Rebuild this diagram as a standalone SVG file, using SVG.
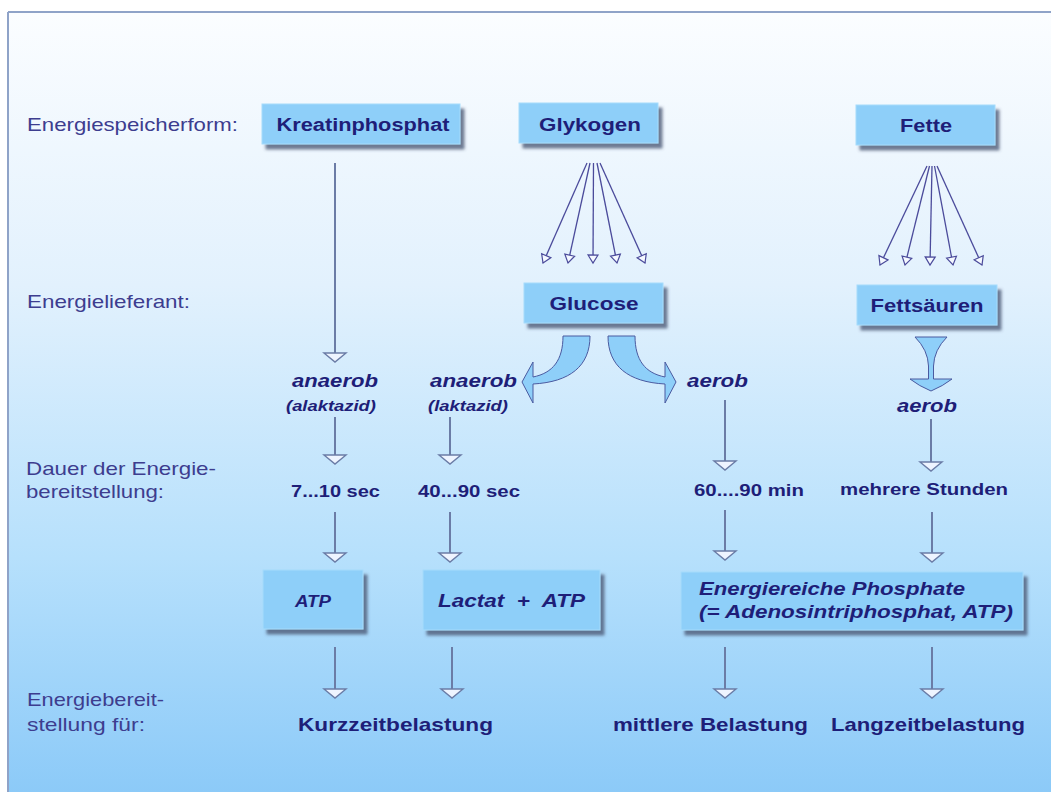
<svg xmlns="http://www.w3.org/2000/svg" width="1051" height="792" viewBox="0 0 1051 792">
<style>
.lbl{font-family:"Liberation Sans",Arial,sans-serif;font-size:18.5px;fill:#3d3d8f}
.nt{font-family:"Liberation Sans",Arial,sans-serif;font-size:18px;font-weight:bold;fill:#1e1e78;text-anchor:middle}
.it{font-family:"Liberation Sans",Arial,sans-serif;font-size:18px;font-weight:bold;font-style:italic;fill:#1e1e78;text-anchor:middle}
.box{fill:#8ecff9;stroke:#a6dbfb;stroke-width:1;filter:url(#sh)}
.ga{fill:none;stroke:#6b7ca6;stroke-width:2;marker-end:url(#hg)}
.fa{fill:none;stroke:#4b4b9b;stroke-width:1.3;marker-end:url(#hf)}
.cv{fill:#8ecff9;stroke:#4a5aa0;stroke-width:1}
</style>
<defs>
<linearGradient id="bg" x1="0" y1="12" x2="0" y2="792" gradientUnits="userSpaceOnUse">
<stop offset="0" stop-color="#fbfdff"/>
<stop offset="0.35" stop-color="#e2f1fd"/>
<stop offset="0.7" stop-color="#b6e0fc"/>
<stop offset="1" stop-color="#8ccaf8"/>
</linearGradient>
<filter id="sh" x="-10%" y="-20%" width="130%" height="150%">
<feDropShadow dx="4" dy="5" stdDeviation="1.6" flood-color="#4e5a78" flood-opacity="0.8"/>
</filter>
<marker id="hg" markerUnits="userSpaceOnUse" markerWidth="12" markerHeight="26" viewBox="-1 -13 12 26" refX="9" refY="0" orient="auto" style="overflow:visible">
<path d="M0,-11 L9,0 L0,11 Z" fill="#eef4ff" stroke="#6b7ca6" stroke-width="1.4"/>
</marker>
<marker id="hf" markerUnits="userSpaceOnUse" markerWidth="10" markerHeight="12" viewBox="-1 -6 10 12" refX="8" refY="0" orient="auto" style="overflow:visible">
<path d="M0,-5 L8,0 L0,5 Z" fill="#f4f8ff" stroke="#4b4b9b" stroke-width="1.2"/>
</marker>
</defs>

<rect x="0" y="0" width="1051" height="792" fill="#ffffff"/>
<rect x="8" y="12" width="1045" height="782" fill="url(#bg)"/>
<line x1="8" y1="12" x2="1051" y2="12" stroke="#8fa3c8" stroke-width="2"/>
<line x1="8" y1="12" x2="8" y2="792" stroke="#8fa3c8" stroke-width="2"/>

<g id="row-labels">
<text class="lbl" x="27" y="131" textLength="211" lengthAdjust="spacingAndGlyphs">Energiespeicherform:</text>
<text class="lbl" x="27" y="308" textLength="163" lengthAdjust="spacingAndGlyphs">Energielieferant:</text>
<text class="lbl" x="26" y="475" textLength="190" lengthAdjust="spacingAndGlyphs">Dauer der Energie-</text>
<text class="lbl" x="26" y="498" textLength="138" lengthAdjust="spacingAndGlyphs">bereitstellung:</text>
<text class="lbl" x="27" y="706" textLength="137" lengthAdjust="spacingAndGlyphs">Energiebereit-</text>
<text class="lbl" x="27" y="731" textLength="118" lengthAdjust="spacingAndGlyphs">stellung für:</text>
</g>

<g id="connectors">
<!-- Glykogen fan -->
<line class="fa" x1="587" y1="163" x2="543" y2="263"/>
<line class="fa" x1="590" y1="163" x2="568" y2="263"/>
<line class="fa" x1="593.5" y1="163" x2="593" y2="263"/>
<line class="fa" x1="597" y1="163" x2="617" y2="263"/>
<line class="fa" x1="600" y1="163" x2="645" y2="263"/>
<!-- Fette fan -->
<line class="fa" x1="927" y1="166" x2="880" y2="265"/>
<line class="fa" x1="929.5" y1="166" x2="905" y2="265"/>
<line class="fa" x1="932" y1="166" x2="930" y2="265"/>
<line class="fa" x1="934.5" y1="166" x2="953" y2="265"/>
<line class="fa" x1="937" y1="166" x2="982" y2="265"/>
<!-- grey vertical arrows -->
<line class="ga" x1="335" y1="163" x2="335" y2="362"/>
<line class="ga" x1="335" y1="417" x2="335" y2="464"/>
<line class="ga" x1="450" y1="417" x2="450" y2="464"/>
<line class="ga" x1="725" y1="400" x2="725" y2="470"/>
<line class="ga" x1="931" y1="419" x2="931" y2="471"/>
<line class="ga" x1="335" y1="512" x2="335" y2="562"/>
<line class="ga" x1="450" y1="512" x2="450" y2="562"/>
<line class="ga" x1="725" y1="510" x2="725" y2="560"/>
<line class="ga" x1="932" y1="512" x2="932" y2="562"/>
<line class="ga" x1="335" y1="647" x2="335" y2="698"/>
<line class="ga" x1="452" y1="647" x2="452" y2="698"/>
<line class="ga" x1="725" y1="647" x2="725" y2="698"/>
<line class="ga" x1="932" y1="647" x2="932" y2="698"/>
<!-- curved block arrows from Glucose -->
<path class="cv" d="M563,336 L590,336 C590,366 570,382 533,384 L533,403 L522,382 L533,362 L533,377 C553,373 563,360 563,336 Z"/>
<path class="cv" d="M635,336 L608,336 C608,366 628,382 665,384 L665,403 L676,382 L665,362 L665,377 C645,373 635,360 635,336 Z"/>
<!-- funnel arrow from Fettsäuren -->
<path class="cv" d="M915,337 L947,337 Q934,350 933.5,366 L933.5,379 L952,379 Q943,386 931,391 Q919,386 910,379 L928.5,379 L928.5,366 Q928,350 915,337 Z"/>
</g>

<g id="n-kreatinphosphat">
<rect class="box" x="262" y="104" width="198" height="40"/>
<text class="nt" x="363" y="131" textLength="173" lengthAdjust="spacingAndGlyphs">Kreatinphosphat</text>
</g>
<g id="n-glykogen">
<rect class="box" x="519" y="103" width="139" height="40"/>
<text class="nt" x="590" y="131" textLength="102" lengthAdjust="spacingAndGlyphs">Glykogen</text>
</g>
<g id="n-fette">
<rect class="box" x="856" y="105" width="139" height="40"/>
<text class="nt" x="926" y="132" textLength="52" lengthAdjust="spacingAndGlyphs">Fette</text>
</g>
<g id="n-glucose">
<rect class="box" x="524" y="283" width="139" height="40"/>
<text class="nt" x="594" y="310" textLength="89" lengthAdjust="spacingAndGlyphs">Glucose</text>
</g>
<g id="n-fettsaeuren">
<rect class="box" x="857" y="285" width="140" height="40"/>
<text class="nt" x="927" y="312" textLength="113" lengthAdjust="spacingAndGlyphs">Fettsäuren</text>
</g>

<g id="n-anaerob-alaktazid">
<text class="it" x="335" y="387" textLength="86" lengthAdjust="spacingAndGlyphs">anaerob</text>
<text class="it" x="331" y="411" style="font-size:14px" textLength="90" lengthAdjust="spacingAndGlyphs">(alaktazid)</text>
</g>
<g id="n-anaerob-laktazid">
<text class="it" x="473.5" y="387" textLength="87" lengthAdjust="spacingAndGlyphs">anaerob</text>
<text class="it" x="468" y="411" style="font-size:14px" textLength="80" lengthAdjust="spacingAndGlyphs">(laktazid)</text>
</g>
<g id="n-aerob-glucose">
<text class="it" x="717.5" y="387" textLength="61" lengthAdjust="spacingAndGlyphs">aerob</text>
</g>
<g id="n-aerob-fett">
<text class="it" x="927" y="412" textLength="60" lengthAdjust="spacingAndGlyphs">aerob</text>
</g>

<g id="n-dauer-7-10">
<text class="nt" x="335.5" y="497" style="font-size:17px" textLength="89" lengthAdjust="spacingAndGlyphs">7...10 sec</text>
</g>
<g id="n-dauer-40-90">
<text class="nt" x="469" y="497" style="font-size:17px" textLength="102" lengthAdjust="spacingAndGlyphs">40...90 sec</text>
</g>
<g id="n-dauer-60-90">
<text class="nt" x="749" y="496" style="font-size:17px" textLength="110" lengthAdjust="spacingAndGlyphs">60....90 min</text>
</g>
<g id="n-dauer-stunden">
<text class="nt" x="924" y="495" style="font-size:17px" textLength="168" lengthAdjust="spacingAndGlyphs">mehrere Stunden</text>
</g>

<g id="n-atp">
<rect class="box" x="263" y="570" width="100" height="59"/>
<text class="it" x="313" y="607" style="font-size:16px" textLength="36" lengthAdjust="spacingAndGlyphs">ATP</text>
</g>
<g id="n-lactat-atp">
<rect class="box" x="423" y="570" width="177" height="60"/>
<text class="it" x="511.5" y="607" xml:space="preserve" textLength="147" lengthAdjust="spacingAndGlyphs">Lactat  +  ATP</text>
</g>
<g id="n-energiereiche">
<rect class="box" x="681" y="572" width="342" height="58"/>
<text class="it" x="699" y="595" style="text-anchor:start" textLength="266" lengthAdjust="spacingAndGlyphs">Energiereiche Phosphate</text>
<text class="it" x="699" y="618" style="text-anchor:start" textLength="314" lengthAdjust="spacingAndGlyphs">(= Adenosintriphosphat, ATP)</text>
</g>

<g id="n-kurzzeit">
<text class="nt" x="395.5" y="731" style="font-size:19px" textLength="195" lengthAdjust="spacingAndGlyphs">Kurzzeitbelastung</text>
</g>
<g id="n-mittlere">
<text class="nt" x="710.5" y="731" style="font-size:19px" textLength="195" lengthAdjust="spacingAndGlyphs">mittlere Belastung</text>
</g>
<g id="n-langzeit">
<text class="nt" x="928" y="731" style="font-size:19px" textLength="194" lengthAdjust="spacingAndGlyphs">Langzeitbelastung</text>
</g>
</svg>
